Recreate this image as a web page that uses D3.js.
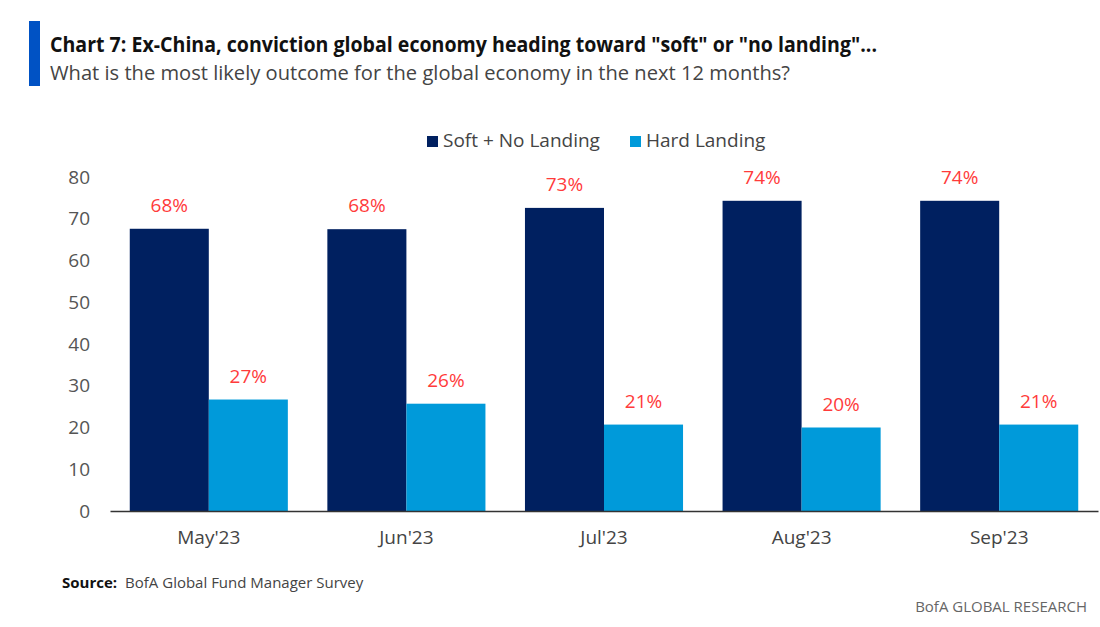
<!DOCTYPE html>
<html>
<head>
<meta charset="utf-8">
<script src="https://cdn.jsdelivr.net/npm/d3@7"></script>
<style>
  body { margin: 0; background: #fff; }
  svg { display: block; font-family: "Open Sans", "Noto Sans", sans-serif; }
</style>
</head>
<body>
<svg id="chart" width="1100" height="627"></svg>
<script>
// data
var months = ["May'23", "Jun'23", "Jul'23", "Aug'23", "Sep'23"];
var softNoLanding = [67.6, 67.5, 72.6, 74.3, 74.3];
var hardLanding = [26.7, 25.7, 20.7, 20.0, 20.7];
var softLabels = ["68%", "68%", "73%", "74%", "74%"];
var hardLabels = ["27%", "26%", "21%", "20%", "21%"];
var seriesNames = ["Soft + No Landing", "Hard Landing"];
var yTicks = [0, 10, 20, 30, 40, 50, 60, 70, 80];

var colors = ["#002060", "#009ada"];

var svg = d3.select("#chart"),
    margin = {left: 110, right: 2, top: 177, bottom: 116},
    width = +svg.attr("width"),
    height = +svg.attr("height");

// title block
svg.append("rect")
    .attr("x", 29).attr("y", 21)
    .attr("width", 11).attr("height", 65)
    .attr("fill", "#0052c4");

svg.append("text")
    .attr("x", 50).attr("y", 52)
    .attr("font-size", 21).attr("font-weight", 700)
    .attr("fill", "#111")
    .attr("textLength", 827).attr("lengthAdjust", "spacingAndGlyphs")
    .text('Chart 7: Ex-China, conviction global economy heading toward "soft" or "no landing"...');

svg.append("text")
    .attr("x", 50).attr("y", 80)
    .attr("font-size", 20)
    .attr("fill", "#444")
    .attr("textLength", 740).attr("lengthAdjust", "spacingAndGlyphs")
    .text("What is the most likely outcome for the global economy in the next 12 months?");

// scales
var x0 = d3.scaleBand()
    .domain(months)
    .range([margin.left, width - margin.right])
    .paddingInner(0.2)
    .paddingOuter(0.1);

var x1 = d3.scaleBand()
    .domain(seriesNames)
    .range([0, x0.bandwidth()]);

var y = d3.scaleLinear()
    .domain([0, 80])
    .range([height - margin.bottom, margin.top]);

// y axis labels
var yAxis = svg.append("g")
    .attr("transform", "translate(" + (margin.left - 20) + ",0)")
    .call(d3.axisLeft(y).tickValues(yTicks).tickSize(0).tickPadding(0));
yAxis.select(".domain").remove();
yAxis.selectAll("text")
    .attr("font-size", 19)
    .attr("font-family", "Open Sans, sans-serif")
    .attr("fill", "#555");

// bars
var rows = months.map(function (m, i) {
    return {month: m, values: [
        {v: softNoLanding[i], label: softLabels[i]},
        {v: hardLanding[i], label: hardLabels[i]}
    ]};
});

var groups = svg.selectAll(".grp")
    .data(rows)
    .enter().append("g")
    .attr("class", "grp")
    .attr("transform", function (d) { return "translate(" + x0(d.month) + ",0)"; });

groups.selectAll("rect")
    .data(function (d) { return d.values; })
    .enter().append("rect")
    .attr("x", function (d, i) { return x1(seriesNames[i]); })
    .attr("y", function (d) { return y(d.v); })
    .attr("width", x1.bandwidth())
    .attr("height", function (d) { return y(0) - y(d.v); })
    .attr("fill", function (d, i) { return colors[i]; });

groups.selectAll(".lbl")
    .data(function (d) { return d.values; })
    .enter().append("text")
    .attr("class", "lbl")
    .attr("x", function (d, i) { return x1(seriesNames[i]) + x1.bandwidth() / 2; })
    .attr("y", function (d) { return y(d.v) - 17; })
    .attr("text-anchor", "middle")
    .attr("font-size", 19)
    .attr("fill", "#ff3b3b")
    .text(function (d) { return d.label; });

// x axis
var xAxis = svg.append("g")
    .attr("transform", "translate(0," + y(0) + ")")
    .call(d3.axisBottom(x0).tickSize(0).tickPadding(20));
xAxis.select(".domain")
    .attr("stroke", "#333")
    .attr("stroke-width", 1.5);
xAxis.selectAll("text")
    .attr("font-size", 19)
    .attr("font-family", "Open Sans, sans-serif")
    .attr("fill", "#444");

// legend
var legendX = [427, 630];
var legend = svg.selectAll(".leg")
    .data(seriesNames)
    .enter().append("g")
    .attr("class", "leg")
    .attr("transform", function (d, i) { return "translate(" + legendX[i] + ",136)"; });
legend.append("rect")
    .attr("width", 11).attr("height", 11)
    .attr("fill", function (d, i) { return colors[i]; });
legend.append("text")
    .attr("x", 16).attr("y", 11)
    .attr("font-size", 19)
    .attr("fill", "#444")
    .text(function (d) { return d; });

// footer
var src = svg.append("text")
    .attr("x", 62).attr("y", 588)
    .attr("font-size", 15)
    .attr("fill", "#333");
src.append("tspan").attr("font-weight", 700).attr("fill", "#111").text("Source:");
src.append("tspan").attr("dx", 8).attr("fill", "#444").text("BofA Global Fund Manager Survey");

svg.append("text")
    .attr("x", 1087).attr("y", 612)
    .attr("text-anchor", "end")
    .attr("font-size", 15)
    .attr("fill", "#666")
    .text("BofA GLOBAL RESEARCH");
</script>
</body>
</html>
